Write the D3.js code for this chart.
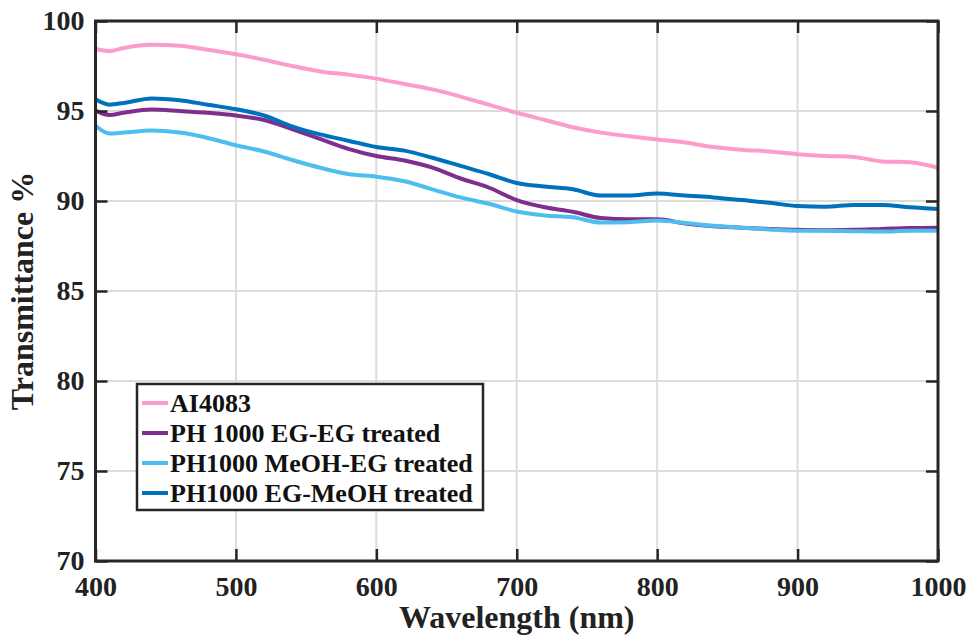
<!DOCTYPE html>
<html>
<head>
<meta charset="utf-8">
<script src="https://cdn.jsdelivr.net/npm/d3@7/dist/d3.min.js"></script>
<style>
  body { margin: 0; background: #fff; }
  svg { display: block; font-family: "Liberation Serif", "Times New Roman", serif; font-weight: bold; }
</style>
</head>
<body>
<div id="chart"></div>
<script>
// wavelength samples (nm)
var wavelengths = [400,410,420,440,460,480,500,520,540,560,580,600,620,640,660,680,700,720,740,760,780,800,820,840,860,880,900,920,940,960,980,1000];

var ai4083   = [98.44,98.33,98.5,98.68,98.62,98.4,98.15,97.85,97.5,97.2,97.02,96.8,96.5,96.2,95.8,95.35,94.9,94.5,94.1,93.8,93.6,93.42,93.25,93.0,92.85,92.75,92.6,92.5,92.45,92.2,92.15,91.85];
var egEg     = [95.02,94.78,94.9,95.08,95.0,94.9,94.75,94.5,94.0,93.45,92.9,92.5,92.25,91.85,91.25,90.75,90.05,89.65,89.4,89.05,88.98,88.98,88.75,88.6,88.52,88.45,88.4,88.38,88.4,88.45,88.5,88.52];
var meohEg   = [94.18,93.75,93.8,93.92,93.8,93.5,93.1,92.75,92.28,91.85,91.5,91.35,91.1,90.65,90.2,89.85,89.42,89.2,89.1,88.8,88.82,88.92,88.78,88.62,88.52,88.42,88.35,88.35,88.32,88.3,88.35,88.35];
var egMeoh   = [95.65,95.35,95.45,95.7,95.6,95.35,95.1,94.75,94.15,93.7,93.35,93.0,92.8,92.4,91.95,91.5,91.0,90.8,90.65,90.3,90.3,90.42,90.3,90.2,90.05,89.9,89.72,89.68,89.78,89.78,89.65,89.55];

var seriesNames  = ['AI4083', 'PH 1000 EG-EG treated', 'PH1000 MeOH-EG treated', 'PH1000 EG-MeOH treated'];
var seriesColors = ['#fb9ccb', '#7e2f8e', '#4dbeee', '#0072bd'];
var seriesValues = [ai4083, egEg, meohEg, egMeoh];

var xTicks = [400,500,600,700,800,900,1000];
var yTicks = [70,75,80,85,90,95,100];

var W = 968, H = 636;
var margin = {top: 21, right: 30, bottom: 75, left: 95.5};

var svg = d3.select('#chart').append('svg')
    .attr('width', W)
    .attr('height', H);

var x = d3.scaleLinear().domain([400, 1000]).range([margin.left, W - margin.right]);
var y = d3.scaleLinear().domain([70, 100]).range([H - margin.bottom, margin.top]);

var axisColor = '#262626';

// grid
var grid = svg.append('g').attr('class', 'grid')
    .attr('stroke', '#dcdcdc')
    .attr('stroke-width', 2);
grid.selectAll('.gx').data(xTicks.slice(1, -1)).enter().append('line')
    .attr('x1', d => x(d)).attr('x2', d => x(d))
    .attr('y1', y(70)).attr('y2', y(100));
grid.selectAll('.gy').data(yTicks.slice(1, -1)).enter().append('line')
    .attr('y1', d => y(d)).attr('y2', d => y(d))
    .attr('x1', x(400)).attr('x2', x(1000));

// lines
var line = d3.line()
    .curve(d3.curveMonotoneX)
    .x((d, i) => x(wavelengths[i]))
    .y(d => y(d));

svg.append('g').attr('class', 'lines')
  .selectAll('path')
    .data(seriesValues)
  .enter().append('path')
    .attr('fill', 'none')
    .attr('stroke', (d, i) => seriesColors[i])
    .attr('stroke-width', 4)
    .attr('stroke-linejoin', 'round')
    .attr('d', d => line(d));

// axes: inward ticks on all four sides
function styleAxis(g) {
    g.select('.domain').remove();
    g.selectAll('.tick line').attr('stroke', axisColor).attr('stroke-width', 2.5);
    g.selectAll('.tick text')
        .attr('fill', '#222')
        .style('font-size', '28px')
        .style('font-family', '"Liberation Serif", serif')
        .style('font-weight', 'bold');
}

svg.append('g')
    .attr('transform', 'translate(0,' + y(70) + ')')
    .call(d3.axisBottom(x).tickValues(xTicks).tickSize(-12).tickPadding(15).tickFormat(d3.format('d')))
    .call(styleAxis);

svg.append('g')
    .attr('transform', 'translate(0,' + y(100) + ')')
    .call(d3.axisTop(x).tickValues(xTicks).tickSize(-12).tickFormat(''))
    .call(styleAxis);

svg.append('g')
    .attr('transform', 'translate(' + x(400) + ',0)')
    .call(d3.axisLeft(y).tickValues(yTicks).tickSize(-12).tickPadding(11).tickFormat(d3.format('d')))
    .call(styleAxis);

svg.append('g')
    .attr('transform', 'translate(' + x(1000) + ',0)')
    .call(d3.axisRight(y).tickValues(yTicks).tickSize(-12).tickFormat(''))
    .call(styleAxis);

// box
svg.append('rect')
    .attr('x', x(400)).attr('y', y(100))
    .attr('width', x(1000) - x(400))
    .attr('height', y(70) - y(100))
    .attr('fill', 'none')
    .attr('stroke', axisColor)
    .attr('stroke-width', 3);

// axis titles
svg.append('text')
    .attr('x', (x(400) + x(1000)) / 2)
    .attr('y', 628)
    .attr('text-anchor', 'middle')
    .attr('fill', '#222')
    .style('font-size', '32px')
    .text('Wavelength (nm)');

svg.append('text')
    .attr('transform', 'translate(33,' + ((y(70) + y(100)) / 2) + ') rotate(-90)')
    .attr('text-anchor', 'middle')
    .attr('fill', '#222')
    .style('font-size', '32px')
    .text('Transmittance %');

// legend
var legend = svg.append('g').attr('class', 'legend')
    .attr('transform', 'translate(137,384)');

legend.append('rect')
    .attr('width', 346)
    .attr('height', 126)
    .attr('fill', '#fff')
    .attr('stroke', axisColor)
    .attr('stroke-width', 2.5);

var item = legend.selectAll('.item')
    .data(seriesNames)
  .enter().append('g')
    .attr('class', 'item')
    .attr('transform', (d, i) => 'translate(0,' + (19 + i * 30) + ')');

item.append('line')
    .attr('x1', 5).attr('x2', 31)
    .attr('stroke', (d, i) => seriesColors[i])
    .attr('stroke-width', 4);

item.append('text')
    .attr('x', 33)
    .attr('dy', '0.35em')
    .attr('fill', '#111')
    .style('font-size', '26px')
    .text(d => d);
</script>
</body>
</html>
